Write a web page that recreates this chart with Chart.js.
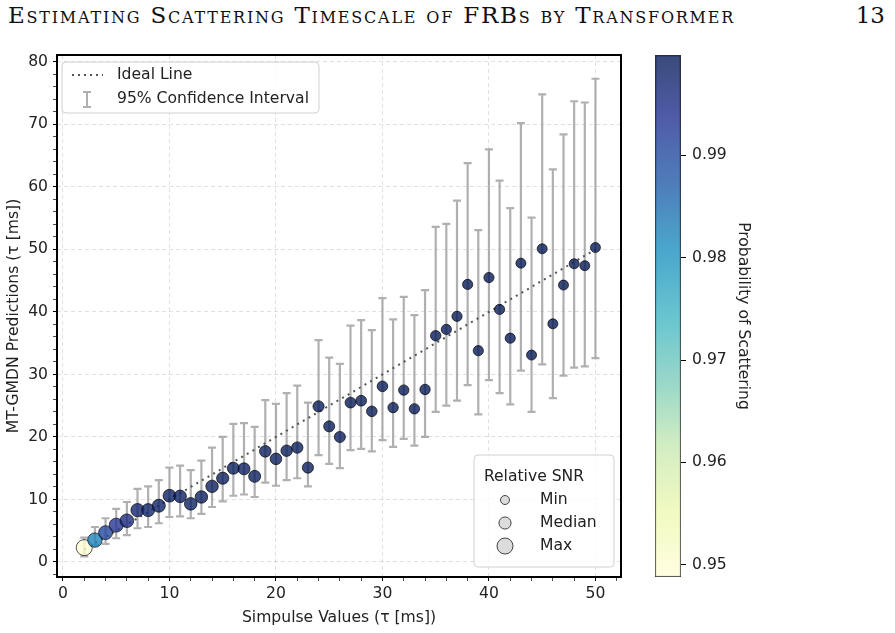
<!DOCTYPE html>
<html>
<head>
<meta charset="utf-8">
<script src="https://cdn.jsdelivr.net/npm/chart.js@4.4.0/dist/chart.umd.min.js"></script>
<style>
  body { margin: 0; background: #fff; width: 895px; height: 633px; overflow: hidden; position: relative; }
  #head { position: absolute; left: 8px; top: 2px; font-family: "DejaVu Serif", serif; font-variant: small-caps; font-size: 23px; color: #111; white-space: nowrap; }
  #page { position: absolute; right: 10px; top: 2px; font-family: "DejaVu Serif", serif; font-size: 23px; color: #111; }
  #main { position: absolute; left: 0; top: 0; }
  #cbar { position: absolute; left: 600px; top: 0; }
</style>
</head>
<body>
<div id="head">Estimating Scattering Timescale of FRBs by Transformer</div>
<div id="page">13</div>
<canvas id="main" width="895" height="633"></canvas>
<canvas id="cbar" width="155" height="633"></canvas>
<script>
// simpulse tau (x) and model predictions
const simTau = [2, 3, 4, 5, 6, 7, 8, 9, 10, 11, 12, 13, 14, 15, 16, 17, 18, 19, 20, 21, 22, 23, 24, 25, 26,
  27, 28, 29, 30, 31, 32, 33, 34, 35, 36, 37, 38, 39, 40, 41, 42, 43, 44, 45, 46, 47, 48, 49, 50];
const predTau = [2.3, 3.5, 4.7, 5.9, 6.6, 8.3, 8.3, 9.0, 10.6, 10.5, 9.3, 10.4, 12.1, 13.4, 15.0, 14.9, 13.7,
  17.7, 16.5, 17.8, 18.3, 15.1, 24.9, 21.7, 20.0, 25.5, 25.8, 24.1, 28.1, 24.7, 27.5, 24.5, 27.6, 36.2,
  37.2, 39.3, 44.4, 33.8, 45.5, 40.4, 35.8, 47.8, 33.1, 50.1, 38.1, 44.3, 47.7, 47.4, 50.3];
const ciLow = [0.9, 2.7, 2.9, 3.8, 4.3, 5.4, 5.6, 6.2, 7.2, 7.3, 7.0, 7.7, 8.8, 9.7, 10.6, 10.8, 10.4,
  12.7, 12.2, 13.1, 13.4, 12.1, 17.1, 15.7, 15.0, 17.9, 18.1, 17.7, 19.5, 18.4, 19.7, 18.6, 20.0, 24.0,
  25.0, 25.8, 28.3, 23.6, 29.1, 27.0, 25.2, 30.6, 24.0, 31.6, 26.2, 29.8, 31.1, 31.3, 32.6];
const ciHigh = [3.9, 5.6, 7.0, 8.5, 9.6, 11.7, 12.1, 13.1, 15.1, 15.4, 14.7, 16.2, 18.3, 20.0, 22.1, 22.2,
  21.6, 25.9, 25.3, 27.0, 28.2, 25.5, 35.5, 32.7, 31.7, 37.8, 38.7, 37.1, 42.2, 38.8, 42.4, 39.5, 43.5,
  53.6, 54.1, 57.8, 63.8, 53.1, 66.0, 61.0, 56.6, 70.2, 55.1, 74.8, 62.8, 68.4, 73.7, 73.5, 77.3];
const probScat = [0.9497, 0.9824, 0.9905, 0.9935, 0.9955, 0.9972, 0.9976, 0.9980, 0.9984, 0.9986, 0.9985,
  0.9988, 0.9989, 0.9990, 0.9991, 0.9990, 0.9990, 0.9992, 0.9992, 0.9993, 0.9993, 0.9992, 0.9994, 0.9994,
  0.9994, 0.9995, 0.9995, 0.9995, 0.9995, 0.9995, 0.9996, 0.9996, 0.9996, 0.9996, 0.9996, 0.9997, 0.9997,
  0.9996, 0.9997, 0.9997, 0.9997, 0.9997, 0.9997, 0.9997, 0.9997, 0.9997, 0.9997, 0.9997, 0.9997];
const relSnr = [1.0, 0.77, 0.71, 0.71, 0.66, 0.60, 0.57, 0.57, 0.54, 0.51, 0.51, 0.49, 0.49, 0.46, 0.43,
  0.43, 0.43, 0.37, 0.37, 0.34, 0.34, 0.31, 0.31, 0.29, 0.29, 0.26, 0.26, 0.23, 0.23, 0.20, 0.20, 0.20,
  0.20, 0.20, 0.17, 0.17, 0.17, 0.17, 0.17, 0.17, 0.17, 0.14, 0.14, 0.14, 0.14, 0.14, 0.14, 0.14, 0.14];

const xTickLabels = [0, 10, 20, 30, 40, 50];
const yTickLabels = [0, 10, 20, 30, 40, 50, 60, 70, 80];
const cbTicks = [0.95, 0.96, 0.97, 0.98, 0.99];
const cbMin = 0.9488, cbMax = 0.9998;
const snrLegend = [["Min", 0.0], ["Median", 0.45], ["Max", 1.0]];

// YlGnBu
const ylgnbu = ["#ffffd9", "#edf8b1", "#c7e9b4", "#7fcdbb", "#41b6c4", "#1d91c0", "#225ea8", "#253494", "#081d58"];
const ALPHA = 0.8;
const FONT_SIZE = 15.6;

function hexRgb(h) {
  return [parseInt(h.slice(1, 3), 16), parseInt(h.slice(3, 5), 16), parseInt(h.slice(5, 7), 16)];
}
function cmap(t) {
  t = Math.max(0, Math.min(1, t));
  let pos = t * (ylgnbu.length - 1);
  let i = Math.min(Math.floor(pos), ylgnbu.length - 2);
  let f = pos - i;
  let a = hexRgb(ylgnbu[i]), b = hexRgb(ylgnbu[i + 1]);
  let c = a.map((v, k) => Math.round(v + (b[k] - v) * f));
  return `rgba(${c[0]},${c[1]},${c[2]},${ALPHA})`;
}
function probColor(p) {
  return cmap((p - cbMin) / (cbMax - cbMin));
}
function snrRadius(s) {
  return 4.5 + 3.5 * s;
}

// stretch running header to the page width
(function fitHeader() {
  let el = document.getElementById("head");
  let n = el.textContent.length;
  el.style.letterSpacing = ((727 - el.offsetWidth) / n) + "px";
})();

Chart.defaults.font.family = "'DejaVu Sans', sans-serif";
Chart.defaults.font.size = FONT_SIZE;
Chart.defaults.color = "#222";

function stepTicks(from, to, step) {
  let out = [];
  for (let v = from; v <= to + 1e-9; v += step) out.push({ value: v });
  return out;
}

const extrasPlugin = {
  id: "extras",
  beforeDatasetsDraw(chart) {
    const { ctx, scales } = chart;
    ctx.save();
    ctx.strokeStyle = "rgba(150,150,150,0.75)";
    ctx.lineWidth = 2.2;
    for (let i = 0; i < simTau.length; i++) {
      let px = scales.x.getPixelForValue(simTau[i]);
      let y1 = scales.y.getPixelForValue(ciLow[i]);
      let y2 = scales.y.getPixelForValue(ciHigh[i]);
      ctx.beginPath();
      ctx.moveTo(px, y1); ctx.lineTo(px, y2);
      ctx.moveTo(px - 4, y1); ctx.lineTo(px + 4, y1);
      ctx.moveTo(px - 4, y2); ctx.lineTo(px + 4, y2);
      ctx.stroke();
    }
    ctx.restore();
  },
  afterDraw(chart) {
    const { ctx, chartArea: a } = chart;
    ctx.save();
    // frame
    ctx.strokeStyle = "#000";
    ctx.lineWidth = 2;
    ctx.strokeRect(a.left, a.top, a.right - a.left, a.bottom - a.top);

    ctx.font = FONT_SIZE + "px 'DejaVu Sans'";
    ctx.textBaseline = "middle";
    ctx.fillStyle = "#222";

    // top-left legend
    let bx = a.left + 5, by = a.top + 7;
    ctx.beginPath();
    ctx.roundRect(bx, by, 257, 51, 4);
    ctx.fillStyle = "rgba(255,255,255,0.8)";
    ctx.fill();
    ctx.strokeStyle = "#d0d0d0";
    ctx.lineWidth = 1;
    ctx.stroke();
    ctx.strokeStyle = "#555";
    ctx.lineWidth = 2;
    ctx.setLineDash([2, 4]);
    ctx.beginPath();
    ctx.moveTo(bx + 10, by + 13); ctx.lineTo(bx + 41, by + 13);
    ctx.stroke();
    ctx.setLineDash([]);
    ctx.strokeStyle = "rgba(150,150,150,0.75)";
    ctx.lineWidth = 2;
    ctx.beginPath();
    let ex = bx + 25;
    ctx.moveTo(ex, by + 30); ctx.lineTo(ex, by + 45);
    ctx.moveTo(ex - 4, by + 30); ctx.lineTo(ex + 4, by + 30);
    ctx.moveTo(ex - 4, by + 45); ctx.lineTo(ex + 4, by + 45);
    ctx.stroke();
    ctx.fillStyle = "#222";
    ctx.textAlign = "left";
    ctx.fillText("Ideal Line", bx + 55, by + 13);
    ctx.fillText("95% Confidence Interval", bx + 55, by + 37);

    // size legend
    let sx = a.right - 7 - 140, sy = a.bottom - 10 - 112;
    ctx.beginPath();
    ctx.roundRect(sx, sy, 140, 112, 4);
    ctx.fillStyle = "rgba(255,255,255,0.8)";
    ctx.fill();
    ctx.strokeStyle = "#d0d0d0";
    ctx.lineWidth = 1;
    ctx.stroke();
    ctx.fillStyle = "#222";
    ctx.textAlign = "center";
    ctx.fillText("Relative SNR", sx + 60, sy + 22);
    ctx.textAlign = "left";
    snrLegend.forEach(([label, s], k) => {
      let cy = sy + 45 + 23 * k;
      ctx.beginPath();
      ctx.arc(sx + 31, cy, snrRadius(s), 0, Math.PI * 2);
      ctx.fillStyle = "rgba(211,211,211,0.8)";
      ctx.fill();
      ctx.strokeStyle = "#444";
      ctx.lineWidth = 1;
      ctx.stroke();
      ctx.fillStyle = "#222";
      ctx.fillText(label, sx + 66, cy);
    });
    ctx.restore();
  },
};

function gridColor(c) {
  return c.tick && c.tick.value % 10 === 0 ? "rgba(0,0,0,0.12)" : "rgba(0,0,0,0)";
}

new Chart(document.getElementById("main"), {
  data: {
    datasets: [
      {
        type: "scatter",
        data: simTau.map((x, i) => ({ x: x, y: predTau[i] })),
        pointRadius: relSnr.map(snrRadius),
        pointHoverRadius: relSnr.map(snrRadius),
        pointBackgroundColor: probScat.map(probColor),
        pointBorderColor: "rgba(0,0,0,0.85)",
        pointBorderWidth: 0.8,
        order: 0,
      },
      {
        type: "line",
        data: simTau.map((x) => ({ x: x, y: x })),
        borderColor: "#555",
        borderWidth: 2,
        borderDash: [2, 4.5],
        pointRadius: 0,
        fill: false,
        order: 1,
      },
    ],
  },
  options: {
    responsive: false,
    animation: false,
    layout: { padding: { left: 0, top: 55, right: 274, bottom: 0 } },
    scales: {
      x: {
        type: "linear",
        min: -0.56,
        max: 52.4,
        afterBuildTicks: (s) => { s.ticks = stepTicks(0, 52, 2); },
        afterFit: (s) => { s.height = 56; },
        ticks: {
          autoSkip: false,
          maxRotation: 0,
          padding: 4,
          callback: (v) => (xTickLabels.includes(v) ? String(v) : ""),
        },
        grid: {
          color: gridColor,
          tickColor: "#000",
          tickLength: 4,
          tickWidth: (c) => (c.tick && c.tick.value % 10 === 0 ? 1 : 0.7),
        },
        border: { display: false, dash: [4, 3] },
        title: { display: true, text: "Simpulse Values (τ [ms])", padding: { top: 0, bottom: 6 } },
      },
      y: {
        type: "linear",
        min: -2.4,
        max: 81.1,
        afterBuildTicks: (s) => { s.ticks = stepTicks(-2, 80, 2); },
        afterFit: (s) => { s.width = 57; },
        ticks: {
          autoSkip: false,
          padding: 5,
          callback: (v) => (yTickLabels.includes(v) ? String(v) : ""),
        },
        grid: {
          color: gridColor,
          tickColor: "#000",
          tickLength: 4,
          tickWidth: (c) => (c.tick && c.tick.value % 10 === 0 ? 1 : 0.7),
        },
        border: { display: false, dash: [4, 3] },
        title: { display: true, text: "MT-GMDN Predictions (τ [ms])", padding: { top: 5, bottom: 0 } },
      },
    },
    plugins: { legend: { display: false }, tooltip: { enabled: false } },
  },
  plugins: [extrasPlugin],
});

// colorbar
new Chart(document.getElementById("cbar"), {
  type: "bar",
  data: {
    labels: ["p"],
    datasets: [
      {
        data: [[cbMin, cbMax]],
        backgroundColor: (c) => {
          const area = c.chart.chartArea;
          if (!area) return "#ccc";
          const g = c.chart.ctx.createLinearGradient(0, area.bottom, 0, area.top);
          for (let k = 0; k <= 40; k++) g.addColorStop(k / 40, cmap(k / 40));
          return g;
        },
        borderColor: "#333",
        borderWidth: 1,
        borderSkipped: false,
        barPercentage: 1,
        categoryPercentage: 1,
      },
    ],
  },
  options: {
    responsive: false,
    animation: false,
    layout: { padding: { left: 55, top: 55, right: 0, bottom: 56 } },
    scales: {
      x: { display: false },
      y: {
        position: "right",
        min: cbMin,
        max: cbMax,
        afterBuildTicks: (s) => { s.ticks = cbTicks.map((v) => ({ value: v })); },
        afterFit: (s) => { s.width = 74; },
        ticks: { padding: 6, callback: (v) => v.toFixed(2) },
        grid: { drawOnChartArea: false, tickColor: "#000", tickLength: 5 },
        border: { display: false },
        title: { display: true, text: "Probability of Scattering", padding: { top: 3, bottom: 0 } },
      },
    },
    plugins: { legend: { display: false }, tooltip: { enabled: false } },
  },
});
</script>
</body>
</html>
